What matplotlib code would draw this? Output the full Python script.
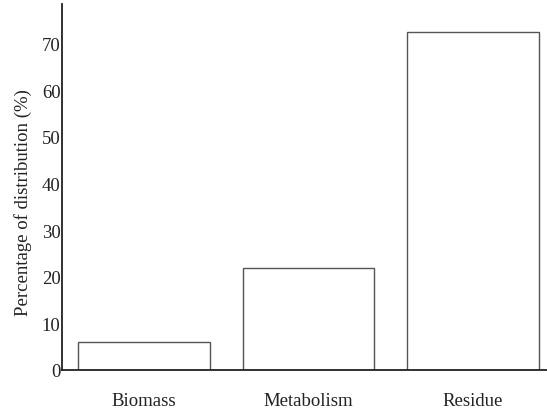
import matplotlib
matplotlib.use("Agg")
import matplotlib.pyplot as plt

categories = ["Biomass", "Metabolism", "Residue"]
percentages = [6.0, 21.8, 72.4]

plt.rcParams['font.family'] = ['Liberation Serif', 'DejaVu Serif']

fig = plt.figure(figsize=(5.47, 4.14), dpi=100)
ax = fig.add_axes([0.113, 0.104, 0.887, 0.884])

x = range(len(categories))
ax.bar(x, percentages, width=0.8, facecolor="white",
       edgecolor="#555555", linewidth=1.0)

ax.set_xlim(-0.5, 2.45)
ax.set_ylim(0, 78.5)
ax.set_yticks(range(0, 80, 10))
ax.set_xticks(list(x))
ax.set_xticklabels(categories)
ax.tick_params(axis="both", length=0, labelsize=13.5, colors="#222222")
ax.tick_params(axis="x", pad=16)
ax.tick_params(axis="y", pad=1)

ax.spines["top"].set_visible(False)
ax.spines["right"].set_visible(False)
for side in ("left", "bottom"):
    ax.spines[side].set_linewidth(1.3)
    ax.spines[side].set_color("#222222")

ax.set_ylabel("Percentage of distribution (%)", fontsize=13.5,
              color="#222222", va="center")
ax.yaxis.set_label_coords(-0.08, 0.46)

fig.savefig("out.png", dpi=100)
